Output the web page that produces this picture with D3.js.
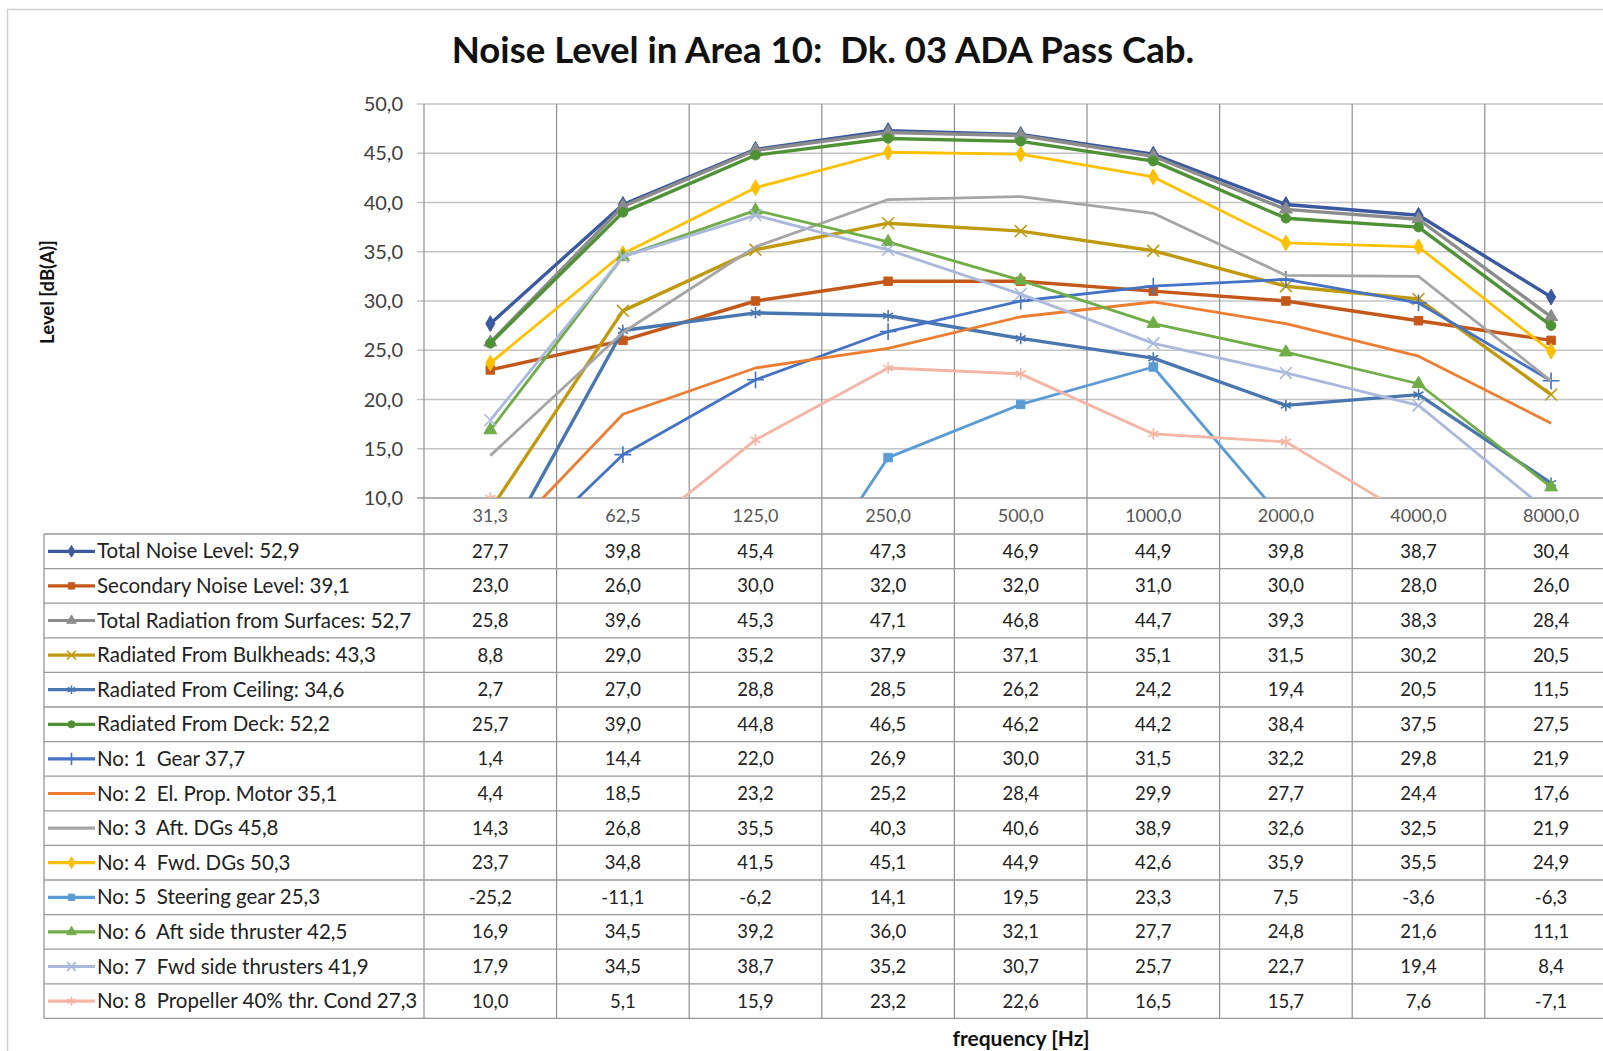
<!DOCTYPE html>
<html>
<head>
<meta charset="utf-8">
<script src="https://cdn.jsdelivr.net/npm/d3@7"></script>
<style>
  body { margin: 0; background: #fff; }
  svg { display: block; font-family: Lato, "Open Sans", sans-serif; }
  svg text { white-space: pre; }
</style>
</head>
<body>
<svg id="chart" width="1603" height="1051"></svg>
<script>
// frequency bands (x categories)
let freqs = ["31,3", "62,5", "125,0", "250,0", "500,0", "1000,0", "2000,0", "4000,0", "8000,0"];
let yTicks = [10, 15, 20, 25, 30, 35, 40, 45, 50];

let seriesNames = [
  "Total Noise Level: 52,9",
  "Secondary Noise Level: 39,1",
  "Total Radiation from Surfaces: 52,7",
  "Radiated From Bulkheads: 43,3",
  "Radiated From Ceiling: 34,6",
  "Radiated From Deck: 52,2",
  "No: 1  Gear 37,7",
  "No: 2  El. Prop. Motor 35,1",
  "No: 3  Aft. DGs 45,8",
  "No: 4  Fwd. DGs 50,3",
  "No: 5  Steering gear 25,3",
  "No: 6  Aft side thruster 42,5",
  "No: 7  Fwd side thrusters 41,9",
  "No: 8  Propeller 40% thr. Cond 27,3"
];

let totalNoise    = [27.7, 39.8, 45.4, 47.3, 46.9, 44.9, 39.8, 38.7, 30.4];
let secondary     = [23.0, 26.0, 30.0, 32.0, 32.0, 31.0, 30.0, 28.0, 26.0];
let totalRad      = [25.8, 39.6, 45.3, 47.1, 46.8, 44.7, 39.3, 38.3, 28.4];
let bulkheads     = [8.8, 29.0, 35.2, 37.9, 37.1, 35.1, 31.5, 30.2, 20.5];
let ceiling       = [2.7, 27.0, 28.8, 28.5, 26.2, 24.2, 19.4, 20.5, 11.5];
let deck          = [25.7, 39.0, 44.8, 46.5, 46.2, 44.2, 38.4, 37.5, 27.5];
let gear          = [1.4, 14.4, 22.0, 26.9, 30.0, 31.5, 32.2, 29.8, 21.9];
let propMotor     = [4.4, 18.5, 23.2, 25.2, 28.4, 29.9, 27.7, 24.4, 17.6];
let aftDGs        = [14.3, 26.8, 35.5, 40.3, 40.6, 38.9, 32.6, 32.5, 21.9];
let fwdDGs        = [23.7, 34.8, 41.5, 45.1, 44.9, 42.6, 35.9, 35.5, 24.9];
let steering      = [-25.2, -11.1, -6.2, 14.1, 19.5, 23.3, 7.5, -3.6, -6.3];
let aftThruster   = [16.9, 34.5, 39.2, 36.0, 32.1, 27.7, 24.8, 21.6, 11.1];
let fwdThrusters  = [17.9, 34.5, 38.7, 35.2, 30.7, 25.7, 22.7, 19.4, 8.4];
let propeller     = [10.0, 5.1, 15.9, 23.2, 22.6, 16.5, 15.7, 7.6, -7.1];

let seriesValues = [totalNoise, secondary, totalRad, bulkheads, ceiling, deck, gear,
  propMotor, aftDGs, fwdDGs, steering, aftThruster, fwdThrusters, propeller];

let colors = ["#3a599e", "#c4581a", "#8c8c8c", "#bf9a10", "#4a76b0", "#4f9236", "#4472c4",
  "#ed7d31", "#a5a5a5", "#ffc000", "#5b9bd5", "#70ad47", "#aab8dc", "#f4b5a4"];
let markers = ["diamond", "square", "triangle", "x", "asterisk", "circle", "plus",
  null, null, "diamond", "square", "triangle", "x", "asterisk"];

let svg = d3.select("#chart");

let plotLeft = 424, colW = 132.6, plotTop = 104, plotBottom = 498;
let tableTop = 534, rowH = 34.6, legendLeft = 44;
let tableBottom = tableTop + rowH * seriesNames.length;

let x = d3.scaleBand().domain(freqs).range([plotLeft, plotLeft + colW * freqs.length]);
let y = d3.scaleLinear().domain([10, 50]).range([plotBottom, plotTop]);
let fmt = d => d3.format(".1f")(d).replace(".", ",").replace("−", "-");

// outer frame
svg.append("rect").attr("x", 7.5).attr("y", 9.5).attr("width", 1700).attr("height", 1200)
  .attr("fill", "none").attr("stroke", "#d0d0d0").attr("stroke-width", 1.5);

// title
svg.append("text").attr("x", 823).attr("y", 63).attr("text-anchor", "middle")
  .attr("font-size", 36.6).attr("font-weight", "bold").attr("fill", "#111")
  .text("Noise Level in Area 10:  Dk. 03 ADA Pass Cab.");

// horizontal gridlines with tick stubs
svg.append("g").selectAll("line").data(yTicks).join("line")
  .attr("x1", plotLeft - 7).attr("x2", 1603)
  .attr("y1", d => y(d)).attr("y2", d => y(d))
  .attr("stroke", d => d === 10 ? "#9a9a9a" : "#c4c4c4").attr("stroke-width", 1.3);

svg.append("g").selectAll("text").data(yTicks).join("text")
  .attr("x", 403).attr("y", d => y(d)).attr("dy", "0.35em").attr("text-anchor", "end")
  .attr("font-size", 20).attr("fill", "#404040")
  .text(fmt);

// vertical gridlines through plot and table
let bounds = freqs.map(f => x(f)).concat([x(freqs[freqs.length - 1]) + x.bandwidth()]);
svg.append("g").selectAll("line").data(bounds).join("line")
  .attr("x1", d => d).attr("x2", d => d).attr("y1", plotTop).attr("y2", tableBottom)
  .attr("stroke", "#8e8e8e").attr("stroke-width", 1.2);

// table row lines
let rowLines = d3.range(seriesNames.length + 1).map(i => tableTop + i * rowH);
svg.append("g").selectAll("line").data(rowLines).join("line")
  .attr("x1", legendLeft).attr("x2", 1603).attr("y1", d => d).attr("y2", d => d)
  .attr("stroke", "#999").attr("stroke-width", 1.3);
svg.append("line").attr("x1", legendLeft).attr("x2", legendLeft)
  .attr("y1", tableTop).attr("y2", tableBottom).attr("stroke", "#8e8e8e").attr("stroke-width", 1.2);

// x category labels
svg.append("g").selectAll("text").data(freqs).join("text")
  .attr("x", d => x(d) + x.bandwidth() / 2).attr("y", (plotBottom + tableTop) / 2)
  .attr("dy", "0.35em").attr("text-anchor", "middle").attr("font-size", 18).attr("fill", "#555")
  .text(d => d);

// axis titles
svg.append("text").attr("transform", "translate(48,292) rotate(-90)")
  .attr("text-anchor", "middle").attr("dy", "0.35em").attr("font-size", 18.5).attr("font-weight", "bold").attr("fill", "#111")
  .text("Level [dB(A)]");
svg.append("text").attr("x", 1021).attr("y", 1039).attr("dy", "0.35em")
  .attr("text-anchor", "middle").attr("font-size", 21).attr("font-weight", "bold").attr("fill", "#111")
  .text("frequency [Hz]");

// marker drawing
function drawMarker(g, type, color, size) {
  if (!type) return;
  let s = size;
  if (type === "x" || type === "asterisk" || type === "plus") {
    let sym = type === "x" ? d3.symbolX : type === "plus" ? d3.symbolPlus : d3.symbolAsterisk;
    g.append("path").attr("d", d3.symbol(sym, s * 1.3)())
      .attr("fill", "none").attr("stroke", color).attr("stroke-width", 1.6);
  } else {
    let sym = { diamond: d3.symbolDiamond, square: d3.symbolSquare, triangle: d3.symbolTriangle, circle: d3.symbolCircle }[type];
    g.append("path").attr("d", d3.symbol(sym, s)()).attr("fill", color).attr("stroke", color);
  }
}

// clip lines to plot area
svg.append("clipPath").attr("id", "plotClip").append("rect")
  .attr("x", plotLeft).attr("y", plotTop).attr("width", 1603 - plotLeft).attr("height", plotBottom - plotTop);

let line = d3.line().x((d, i) => x(freqs[i]) + x.bandwidth() / 2).y(d => y(d));
let plot = svg.append("g").attr("clip-path", "url(#plotClip)");

seriesValues.forEach((vals, si) => {
  let g = plot.append("g");
  g.append("path").datum(vals).attr("d", line).attr("fill", "none")
    .attr("stroke", colors[si]).attr("stroke-width", si < 6 ? 3.4 : 2.8).attr("stroke-linejoin", "round");
  vals.forEach((v, i) => {
    let m = g.append("g").attr("transform", `translate(${x(freqs[i]) + x.bandwidth() / 2},${y(v)})`);
    drawMarker(m, markers[si], colors[si], 72);
  });
});

// table: legend keys and values
seriesNames.forEach((name, si) => {
  let cy = tableTop + si * rowH + rowH / 2;
  svg.append("line").attr("x1", 48).attr("x2", 95).attr("y1", cy).attr("y2", cy)
    .attr("stroke", colors[si]).attr("stroke-width", 3.2);
  drawMarker(svg.append("g").attr("transform", `translate(71.5,${cy})`), markers[si], colors[si], 40);
  svg.append("text").attr("x", 97).attr("y", cy).attr("dy", "0.35em")
    .attr("font-size", 20.5).attr("fill", "#222").text(name);
  svg.append("g").selectAll("text").data(seriesValues[si]).join("text")
    .attr("x", (d, i) => x(freqs[i]) + x.bandwidth() / 2).attr("y", cy).attr("dy", "0.35em")
    .attr("text-anchor", "middle").attr("font-size", 18.5).attr("fill", "#222")
    .text(fmt);
});
</script>
</body>
</html>
